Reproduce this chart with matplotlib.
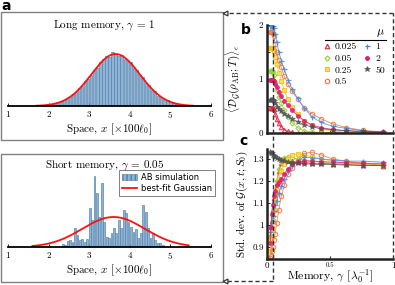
import numpy as np
import matplotlib
matplotlib.use("Agg")
import matplotlib.pyplot as plt
from matplotlib.patches import Rectangle, Patch
from matplotlib.lines import Line2D

plt.rcParams["font.family"] = ["cmr10", "DejaVu Serif"]
plt.rcParams["mathtext.fontset"] = "cm"
plt.rcParams["axes.formatter.use_mathtext"] = True

# ---------------- data: panel a ----------------
long_x = [1.85, 1.925, 2.0, 2.075, 2.15, 2.225, 2.3, 2.375, 2.45, 2.525, 2.6, 2.675,
          2.75, 2.825, 2.9, 2.975, 3.05, 3.125, 3.2, 3.275, 3.35, 3.425, 3.5, 3.575,
          3.65, 3.725, 3.8, 3.875, 3.95, 4.025, 4.1, 4.175, 4.25, 4.325, 4.4, 4.475,
          4.55, 4.625, 4.7, 4.775, 4.85, 4.925, 5.0, 5.075, 5.15, 5.225, 5.3, 5.375, 5.45]
long_counts = [1, 2, 3, 3, 5, 6, 8, 11, 13, 18, 23, 26, 34, 38, 48, 52, 60, 70, 73, 84,
               90, 96, 95, 103, 101, 97, 99, 91, 86, 84, 73, 70, 59, 55, 44, 41, 30, 28,
               20, 18, 13, 11, 7, 6, 4, 3, 2, 1, 1]
long_fit = dict(mean=3.65, sigma=0.6, peak=100.0, lo=1.7, hi=5.55)

short_x = [2.35, 2.41, 2.47, 2.53, 2.59, 2.65, 2.71, 2.77, 2.83, 2.89, 2.95, 3.01, 3.07,
           3.13, 3.19, 3.25, 3.31, 3.37, 3.43, 3.49, 3.55, 3.61, 3.67, 3.73, 3.79, 3.85,
           3.91, 3.97, 4.03, 4.09, 4.15, 4.21, 4.27, 4.33, 4.39, 4.45, 4.51, 4.57, 4.63,
           4.69, 4.75, 4.81]
short_counts = [3, 2, 6, 7, 5, 19, 12, 7, 8, 5, 8, 39, 27, 71, 54, 30, 64, 25, 10, 9, 14,
                19, 14, 27, 19, 37, 34, 25, 20, 15, 18, 9, 14, 42, 35, 19, 9, 14, 7, 4, 4, 2]
short_fit = dict(mean=3.6, sigma=0.77, peak=30.0, lo=1.6, hi=5.45)

space_ticks = [1, 2, 3, 4, 5, 6]

# ---------------- data: panels b, c ----------------
gam = [0.026, 0.031, 0.037, 0.044, 0.053, 0.064, 0.077, 0.094, 0.113, 0.137, 0.166,
       0.2, 0.243, 0.294, 0.355, 0.43, 0.52, 0.63, 0.76, 0.92]
mu_labels = ["0.025", "0.05", "0.25", "0.5", "1", "2", "50"]

dg_0025 = [0.47, 0.47, 0.47, 0.47, 0.44, 0.35, 0.26, 0.18, 0.12, 0.06, 0.03, 0.015, 0.008, 0.004, 0.002, 0.001, 0.001, 0.0, 0.0, 0.0]
dg_005 = [1.14, 1.14, 1.14, 1.13, 1.08, 0.94, 0.79, 0.67, 0.55, 0.43, 0.30, 0.19, 0.10, 0.04, 0.02, 0.01, 0.005, 0.003, 0.002, 0.001]
dg_025 = [1.57, 1.57, 1.57, 1.56, 1.51, 1.40, 1.28, 1.12, 0.97, 0.79, 0.63, 0.48, 0.35, 0.22, 0.14, 0.07, 0.035, 0.015, 0.005, 0.002]
dg_05 = [1.87, 1.87, 1.87, 1.86, 1.80, 1.65, 1.50, 1.36, 1.22, 1.05, 0.90, 0.77, 0.63, 0.47, 0.36, 0.26, 0.17, 0.10, 0.05, 0.02]
dg_1 = [1.99, 1.99, 1.99, 1.98, 1.94, 1.83, 1.69, 1.50, 1.34, 1.18, 0.99, 0.81, 0.64, 0.47, 0.30, 0.195, 0.125, 0.085, 0.04, 0.01]
dg_2 = [0.98, 0.98, 0.98, 0.98, 0.96, 0.91, 0.85, 0.76, 0.68, 0.60, 0.51, 0.42, 0.32, 0.23, 0.15, 0.10, 0.065, 0.04, 0.02, 0.01]
dg_50 = [0.62, 0.62, 0.62, 0.62, 0.60, 0.55, 0.49, 0.44, 0.40, 0.36, 0.31, 0.26, 0.21, 0.155, 0.115, 0.08, 0.06, 0.045, 0.03, 0.02]

sd_0025 = [0.95, 0.99, 1.02, 1.07, 1.12, 1.15, 1.19, 1.245, 1.28, 1.30, 1.295, 1.29, 1.285, 1.285, 1.28, 1.28, 1.278, 1.275, 1.272, 1.27]
sd_005 = [0.93, 0.95, 0.99, 1.04, 1.10, 1.14, 1.20, 1.255, 1.29, 1.305, 1.31, 1.305, 1.30, 1.295, 1.29, 1.285, 1.28, 1.278, 1.276, 1.275]
sd_025 = [0.88, 0.93, 0.98, 1.02, 1.07, 1.12, 1.16, 1.21, 1.245, 1.275, 1.30, 1.318, 1.323, 1.318, 1.31, 1.30, 1.29, 1.285, 1.28, 1.275]
sd_05 = [0.85, 0.86, 0.88, 0.90, 0.93, 0.96, 1.01, 1.07, 1.13, 1.18, 1.23, 1.26, 1.29, 1.325, 1.33, 1.318, 1.30, 1.29, 1.28, 1.27]
sd_1 = [0.97, 0.99, 1.02, 1.04, 1.065, 1.09, 1.11, 1.145, 1.175, 1.21, 1.245, 1.27, 1.29, 1.31, 1.305, 1.30, 1.295, 1.29, 1.29, 1.285]
sd_2 = [0.92, 0.99, 1.05, 1.09, 1.13, 1.155, 1.18, 1.195, 1.21, 1.23, 1.255, 1.275, 1.285, 1.29, 1.29, 1.288, 1.285, 1.283, 1.28, 1.28]
sd_50 = [1.33, 1.328, 1.326, 1.32, 1.315, 1.31, 1.305, 1.30, 1.295, 1.29, 1.285, 1.282, 1.28, 1.278, 1.276, 1.275, 1.274, 1.272, 1.27, 1.27]

gamma_short = 0.05
gamma_long = 1.0

dg_series = [dg_0025, dg_005, dg_025, dg_05, dg_1, dg_2, dg_50]
sd_series = [sd_0025, sd_005, sd_025, sd_05, sd_1, sd_2, sd_50]

# ---------------- styles ----------------
styles = [
    dict(color="#e0203f", marker="^", mfc="none", ms=3.2, mew=0.8),
    dict(color="#8cd130", marker="D", mfc="none", ms=2.6, mew=0.8),
    dict(color="#f5c400", marker="s", mfc="#f8dc6a", ms=2.8, mew=0.8),
    dict(color="#f0703a", marker="o", mfc="none", ms=3.2, mew=0.8),
    dict(color="#3b8be6", marker="+", mfc="none", ms=3.6, mew=0.9),
    dict(color="#e6176c", marker="o", mfc="#e6176c", ms=2.8, mew=0.6),
    dict(color="#505050", marker="*", mfc="#505050", ms=3.8, mew=0.4),
]

W, H = 395, 285
fig = plt.figure(figsize=(W / 100, H / 100), dpi=100)


def prect(x0, y0, x1, y1):
    return [x0 / W, 1 - y1 / H, (x1 - x0) / W, (y1 - y0) / H]


def ffig(x, y):
    return x / W, 1 - y / H


# ---------------- panel a boxes ----------------
for (x0, y0, x1, y1) in [(0.5, 12, 223, 140), (0.5, 154, 223, 282)]:
    fig.add_artist(Rectangle(ffig(x0, y1), (x1 - x0) / W, (y1 - y0) / H,
                             transform=fig.transFigure, fill=False,
                             edgecolor="#808080", lw=1.0))

bar_face = "#8fb4d6"
bar_edge = "#4f7ea8"


def hist_axes(rect, xs, counts, width, fit, ylim_top, title, title_xy):
    ax = fig.add_axes(rect)
    ax.bar(xs, counts, width=width, color=bar_face, edgecolor=bar_edge, lw=0.45,
           zorder=2)
    xx = np.linspace(fit["lo"], fit["hi"], 300)
    yy = fit["peak"] * np.exp(-(xx - fit["mean"]) ** 2 / (2 * fit["sigma"] ** 2))
    ax.plot(xx, yy, color="#ff1010", lw=1.3, zorder=3)
    ax.set_xlim(1, 6)
    ax.set_ylim(0, ylim_top)
    for s in ["top", "right", "left"]:
        ax.spines[s].set_visible(False)
    ax.spines["bottom"].set_linewidth(1.3)
    ax.spines["bottom"].set_zorder(4)
    ax.set_yticks([])
    ax.set_xticks(space_ticks)
    ax.tick_params(axis="x", direction="in", length=2, width=0.6, labelsize=6.5, pad=2)
    ax.set_xlabel(r"Space, $x$ [$\times100\ell_0$]", fontsize=8, labelpad=1)
    ax.patch.set_alpha(0)
    fig.text(*ffig(*title_xy), title, fontsize=8, ha="center", va="center")
    return ax


ax_long = hist_axes(prect(8, 40, 211, 106), long_x, long_counts, 0.06, long_fit,
                    127, r"Long memory, $\mathrm{\gamma}$ = 1", (104, 25))
ax_short = hist_axes(prect(8, 168, 211, 247), short_x, short_counts, 0.045, short_fit,
                     79, r"Short memory, $\mathrm{\gamma}$ = 0.05", (105, 165))

leg_handles = [Patch(facecolor=bar_face, edgecolor=bar_edge, hatch="||||", lw=0.4),
               Line2D([], [], color="#ff1010", lw=1.3)]
leg = ax_short.legend(leg_handles, ["AB simulation", "best-fit Gaussian"],
                      loc="upper right", bbox_to_anchor=(1.04, 1.03),
                      prop=dict(family="DejaVu Sans", size=6), frameon=True,
                      fancybox=False, edgecolor="#808080", framealpha=1,
                      handlelength=1.8, handletextpad=0.5, borderpad=0.35,
                      labelspacing=0.25)
leg.get_frame().set_linewidth(0.7)

# ---------------- panel b ----------------
ax_b = fig.add_axes(prect(267, 25, 393, 133))
for ys, st, lab in zip(dg_series, styles, mu_labels):
    ax_b.plot(gam, ys, lw=0.6, alpha=0.85, label=lab, **st)
ax_b.set_xlim(0, 1)
ax_b.set_ylim(0, 2)
ax_b.set_yticks([0, 1, 2])
ax_b.set_yticklabels(["0", "1", "2"])
ax_b.set_yticks([0.5, 1.5], minor=True)
ax_b.set_xticks([0.5])
ax_b.set_xticklabels([])
ax_b.tick_params(axis="both", which="both", direction="in", length=2.5, width=0.6,
                 labelsize=6.5, pad=3)

mk_handles = [Line2D([], [], linestyle="none", **st) for st in styles]
leg_b = ax_b.legend(mk_handles, mu_labels, ncol=2, loc="upper right",
                    bbox_to_anchor=(0.99, 1.04), frameon=False,
                    title=r"$\mu$", alignment="right",
                    prop=dict(size=7), title_fontsize=8.5,
                    handlelength=0.8, handletextpad=0.4, columnspacing=0.7,
                    labelspacing=0.3, borderpad=0.2)

# ---------------- panel c ----------------
ax_c = fig.add_axes(prect(267, 149, 393, 259))
for ys, st in zip(sd_series, styles):
    ax_c.plot(gam, ys, lw=0.6, alpha=0.85, **st)
ax_c.set_xlim(0, 1)
ax_c.set_ylim(0.845, 1.345)
ax_c.set_yticks([0.9, 1.0, 1.1, 1.2, 1.3])
ax_c.set_yticklabels(["0.9", "1", "1.1", "1.2", "1.3"])
ax_c.set_xticks([0, 0.5, 1])
ax_c.set_xticklabels(["0", "0.5", "1"])
ax_c.tick_params(axis="both", direction="in", length=2.5, width=0.6, labelsize=6.5,
                 pad=2)
ax_c.get_xticklabels()[1].set_fontsize(5)
ax_c.set_xlabel(r"Memory, $\gamma$ [$\lambda_0^{-1}$]", fontsize=8.5, labelpad=-2.5)

for ax in (ax_b, ax_c):
    ax.spines["top"].set_visible(False)
    ax.spines["right"].set_visible(False)
    for s in ("left", "bottom"):
        ax.spines[s].set_linewidth(1.8)
        ax.spines[s].set_color("#222222")
    ax.patch.set_alpha(0)

fig.text(*ffig(233, 79), r"$\langle\mathcal{D}_{\mathcal{G}}(\rho_{\rm AB};T)\rangle_\epsilon$",
         rotation=90, fontsize=8, ha="center", va="center")
fig.text(*ffig(242, 204), r"Std. dev. of $\mathcal{G}(x,t;S_0)$",
         rotation=90, fontsize=8, ha="center", va="center")

# panel letters
for lab, (x, y) in zip("abc", [(6, 6.5), (246, 30), (244, 141)]):
    fig.text(*ffig(x, y), lab, fontsize=10, fontweight="bold",
             family="DejaVu Sans", ha="center", va="center")

# ---------------- dashed connectors ----------------
fig.canvas.draw()
inv = fig.transFigure.inverted()
xs_short = inv.transform(ax_c.transData.transform((gamma_short, 0.9)))[0]
xs_long = inv.transform(ax_c.transData.transform((gamma_long, 0.9)))[0]
y_top_b = inv.transform(ax_b.transAxes.transform((0, 1)))[1]
y_bot_c = inv.transform(ax_c.transAxes.transform((0, 0)))[1]
xa = 225 / W
y_top_line = 1 - 12.5 / H
y_bot_line = 1 - 281 / H
dash = dict(color="#333333", lw=1.0, linestyle=(0, (3, 2)), transform=fig.transFigure)
fig.add_artist(Line2D([xs_short, xs_short], [y_top_b, y_bot_line], **dash))
fig.add_artist(Line2D([xs_short, xa], [y_bot_line, y_bot_line], **dash))
fig.add_artist(Line2D([xs_long, xs_long], [y_bot_c, y_top_line], **dash))
fig.add_artist(Line2D([xs_long, xa], [y_top_line, y_top_line], **dash))
for yy in (y_top_line, y_bot_line):
    fig.add_artist(Line2D([xa], [yy], marker="<", ms=3.5, mfc="white", mec="#333333",
                          mew=0.9, transform=fig.transFigure))

# line under mu legend title
fig.canvas.draw()
fig.add_artist(Line2D([325 / W, 386 / W], [1 - 40 / H, 1 - 40 / H], color="black",
                      lw=0.8, transform=fig.transFigure))

fig.savefig("out.png", dpi=100)
